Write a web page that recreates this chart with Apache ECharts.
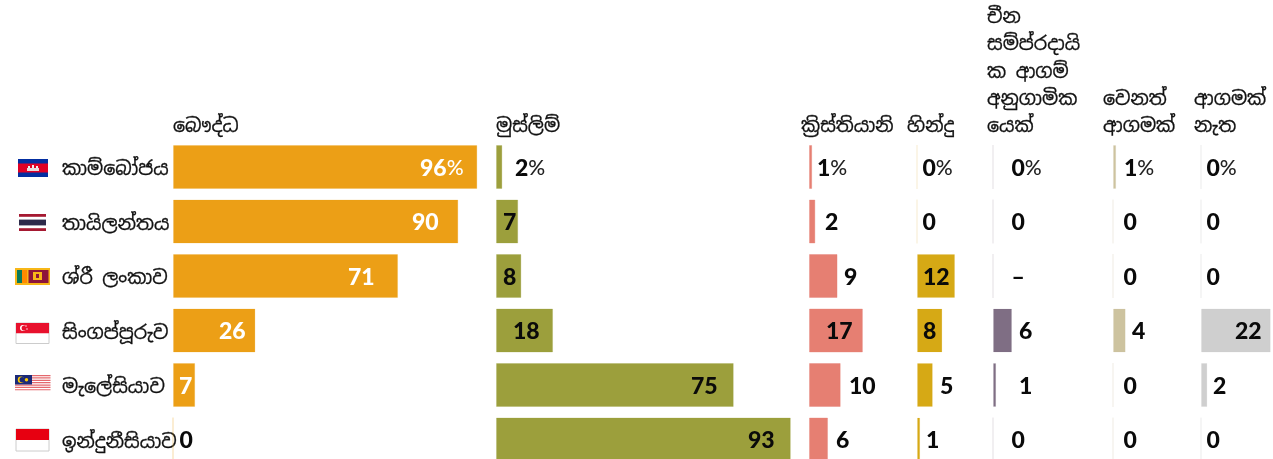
<!DOCTYPE html>
<html><head><meta charset="utf-8">
<style>html,body{margin:0;padding:0;background:#fff}#c{width:1273px;height:459px}</style>
<script src="https://cdn.jsdelivr.net/npm/echarts@6/dist/echarts.min.js"></script>
</head><body><div id="c"></div>
<script>
const countries = ['කාම්බෝජය','තායිලන්තය','ශ්රී ලංකාව','සිංගප්පූරුව','මැලේසියාව','ඉන්දුනීසියාව'];
const headers = ['බෞද්ධ','මුස්ලිම්','ක්‍රිස්තියානි','හින්දු','චීන\nසම්ප්රදායි\nක ආගම්\nඅනුගාමික\nයෙක්','වෙනත්\nආගමක්','ආගමක්\nනැත'];
const buddhist  = [96,90,71,26,7,0];
const muslim    = [2,7,8,18,75,93];
const christian = [1,2,9,17,10,6];
const hindu     = [0,0,12,8,5,1];
const chinese   = [0,0,null,6,1,0];
const other     = [1,0,0,4,0,0];
const none      = [0,0,0,22,2,0];
const seriesValues = [buddhist,muslim,christian,hindu,chinese,other,none];
const axisMax = [100,100,20,15,10,10,25];

// layout & style, separate from the data
const colLeft = [173,496,809,917,993,1113,1201];
const headerShift = [0,0,-8,-10,-6,-10,-7];
const colors = ['#EC9F16','#9C9F3C','#E67F72','#D6A915','#7F6E84','#CDC39F','#CFCFCF'];
const faint = ['rgba(236,159,22,.2)','rgba(156,159,60,.25)','rgba(230,127,114,.35)','rgba(214,169,21,.1)','rgba(127,110,132,.1)','rgba(205,195,159,.15)','rgba(207,207,207,.2)'];
const labelInset = [
 [247,239,175,46,6,7],[19,7,7,17,195,252],[8,16,35,17,40,27],[6,6,6,6,23,9],
 [19,19,19,26,26,19],[11,11,11,19,11,11],[6,6,6,34,12,6]];
const whiteRows = [0,1,2,3,4];
const pxPerUnit = 3.17, rowH = 54.5, barH = 44, top0 = 145;
const sin = '"Noto Sans Sinhala","Noto Sans","DejaVu Sans",sans-serif';
const num = 'Lato,"DejaVu Sans",sans-serif';

const grid=[],xAxis=[],yAxis=[],series=[];
seriesValues.forEach((vals,c)=>{
  grid.push({left:colLeft[c],top:top0-(rowH-barH)/2,width:axisMax[c]*pxPerUnit,height:rowH*6,containLabel:false,outerBoundsMode:'none'});
  xAxis.push({gridIndex:c,type:'value',min:0,max:axisMax[c],show:true,position:'top',
    axisLine:{show:false},axisTick:{show:false},axisLabel:{show:false},splitLine:{show:false},
    name:headers[c],nameLocation:'start',nameGap:0,
    nameTextStyle:{align:'left',verticalAlign:'bottom',fontFamily:sin,fontSize:19,lineHeight:27.3,color:'#111',textBorderColor:'#111',textBorderWidth:0.3,padding:[0,0,-1,headerShift[c]]}});
  yAxis.push({gridIndex:c,type:'category',inverse:true,data:countries,
    axisLine:{show:false},axisTick:{show:false},
    axisLabel:c===0?{show:true,align:'left',verticalAlign:'top',lineHeight:6,margin:111,fontFamily:sin,fontSize:19,color:'#111',textBorderColor:'#111',textBorderWidth:0.3}:{show:false}});
  series.push({type:'bar',xAxisIndex:c,yAxisIndex:c,barWidth:barH,silent:true,
    data:vals.map((v,r)=>{
      const white = c===0 && whiteRows.includes(r);
      const txt = v===null?'–':String(v);
      return {value:v===null?0:v,
        itemStyle:{color:colors[c],borderColor:faint[c],borderWidth:1},
        label:{show:true,position:[labelInset[c][r],'50%'],offset:[0,1.5],align:'left',verticalAlign:'middle',
          formatter: r===0? `{v|${txt}}{p|%}` : `{v|${txt}}`,
          rich:{v:{fontFamily:num,fontWeight:900,fontSize:23,color:white?'#fff':'#0a0a0a'},
                p:{fontFamily:num,fontWeight:500,fontSize:21,color:white?'#fff':'#222'}}}};
    })});
});

function R(x,y,w,h,fill,extra){return Object.assign({type:'rect',shape:{x,y,width:w,height:h},style:{fill},silent:true},extra||{});}
function C(cx,cy,r,fill){return {type:'circle',shape:{cx,cy,r},style:{fill},silent:true};}
const flags=[
  // Cambodia
  R(18,159,30,18,'#032EA1'),R(18,163.5,30,9,'#E00025'),R(27,168,12,3,'#e8dcdc'),R(28,166,2,2,'#eee'),R(32,165,2,3,'#eee'),R(36,166,2,2,'#eee'),
  // Thailand
  R(19,214,27,17,'#fff'),R(19,214,27,2.8,'#A51931'),R(19,228.2,27,2.8,'#A51931'),R(19,219.6,27,5.8,'#2D2A4A'),
  // Sri Lanka
  R(15,268,35,17,'#F7B718'),R(17,270,5,13,'#0A7A5A'),R(22,270,5,13,'#FF8A00'),R(28.5,270,20,13,'#8D153A'),R(33,272,9,8,'#F7B718'),R(36,274,3,4,'#8D153A'),
  // Singapore
  R(16,323,33,20.5,'#fff',{style:{fill:'#fff',stroke:'#ccc',lineWidth:1}}),R(16,323,33,10.2,'#E8112D'),C(23,328,3,'#fff'),C(24.2,328,2.6,'#E8112D'),C(26,326,.7,'#fff'),C(27,329,.7,'#fff'),
  // Malaysia
  R(15,375,35.5,16.5,'#fff'),
];
for(let i=0;i<7;i++) flags.push(R(15,375+i*2.36,35.5,1.2,'#E4686D'));
flags.push(R(15,375,17,9.5,'#1B2A78'),C(21,379.7,3.2,'#FFCC00'),C(22.2,379.7,2.7,'#1B2A78'),C(26.5,379.7,1.7,'#FFCC00'));
// Indonesia
flags.push(R(16,429,33,22,'#fff',{style:{fill:'#fff',stroke:'#ccc',lineWidth:1}}),R(16,429,33,11,'#E70011'));

const chart=echarts.init(document.getElementById('c'),null,{renderer:'canvas'});
chart.setOption({animation:false,backgroundColor:'#fff',grid,xAxis,yAxis,series,graphic:{elements:flags}});
</script></body></html>
